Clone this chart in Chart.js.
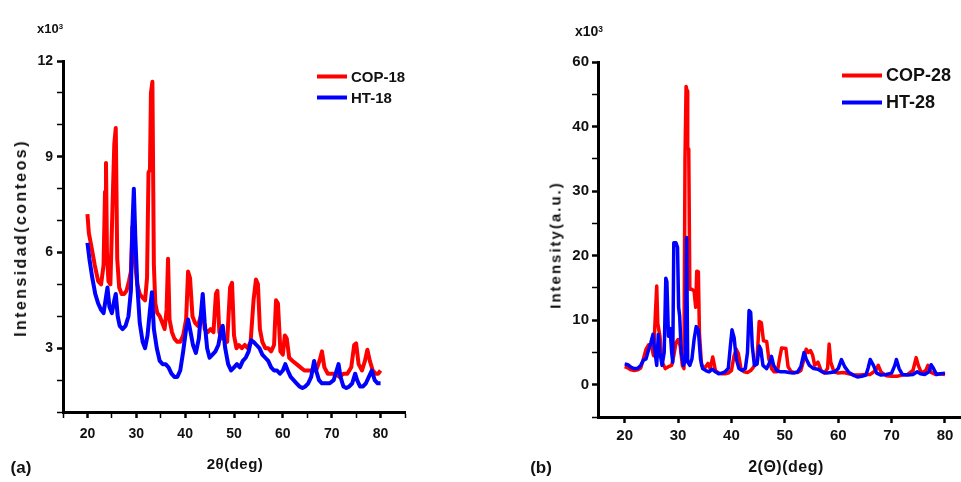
<!DOCTYPE html>
<html>
<head>
<meta charset="utf-8">
<title>XRD patterns</title>
<script src="https://cdn.jsdelivr.net/npm/chart.js@4.4.1/dist/chart.umd.min.js"></script>
<style>
  body { margin: 0; background: #fff; }
  #wrap {
    position: relative; width: 961px; height: 482px; overflow: hidden;
    font-family: 'Liberation Sans', Arial, sans-serif; font-weight: bold; color: #111;
  }
  canvas { position: absolute; top: 0; }
  .lbl { position: absolute; white-space: nowrap; line-height: 1; transform: translate(0, -50%); }
  .mid { transform: translate(-50%, -50%); }
  .rot { transform: translate(-50%, -50%) rotate(-90deg); }
  .legend-row { position: absolute; display: flex; align-items: center; transform: translate(0, -50%); }
  .legend-row span.swatch { display: inline-block; height: 4px; margin-right: 4px; }
  sup { font-size: 60%; vertical-align: 0.5em; }
</style>
</head>
<body>
<div id="wrap">
  <canvas id="chartA" width="480" height="482" style="left:0"></canvas>
  <canvas id="chartB" width="481" height="482" style="left:480px"></canvas>

  <div class="lbl" style="left:37px;top:28px;font-size:13px">x10<sup>3</sup></div>
  <div class="lbl rot" style="left:21px;top:238px;font-size:16px;letter-spacing:2.4px">Intensidad(conteos)</div>
  <div class="lbl mid" style="left:235px;top:463px;font-size:15px;letter-spacing:0.5px">2θ(deg)</div>
  <div class="lbl mid" style="left:21px;top:467px;font-size:17px">(a)</div>

  <div class="lbl" style="left:575px;top:31px;font-size:14px">x10<sup>3</sup></div>
  <div class="lbl rot" style="left:555px;top:245px;font-size:15px;letter-spacing:2px">Intensity(a.u.)</div>
  <div class="lbl mid" style="left:786px;top:467px;font-size:16px;letter-spacing:0.5px">2(Θ)(deg)</div>
  <div class="lbl mid" style="left:541px;top:467px;font-size:17px">(b)</div>

  <div id="legendA"></div>
  <div id="legendB"></div>
</div>

<script>
// Panel (a): COP-18 / HT-18, intensity in thousands of counts
const seriesA = ['COP-18', 'HT-18'];
const cop18X = [20, 20.3, 20.8, 21.5, 22.2, 22.8, 23.3, 23.6, 23.8, 24.0,
  24.3, 24.7, 25.2, 25.5, 25.8, 26.1, 26.5, 27.0, 27.5, 28.0,
  28.5, 28.9, 29.2, 29.5, 29.8, 30.2, 30.7, 31.2, 31.8, 32.2,
  32.5, 32.8, 33.0, 33.3, 33.6, 33.9, 34.3, 34.8, 35.3, 35.8,
  36.2, 36.5, 36.8, 37.3, 37.8, 38.4, 39.0, 39.6, 40.2, 40.6,
  41.0, 41.5, 42.0, 42.6, 43.2, 43.6, 44.0, 44.6, 45.2, 45.8,
  46.3, 46.6, 47.0, 47.5, 48.0, 48.6, 49.2, 49.6, 50.0, 50.5,
  51.0, 51.6, 52.2, 52.8, 53.4, 54.0, 54.5, 54.9, 55.3, 55.8,
  56.4, 57.0, 57.6, 58.2, 58.6, 59.0, 59.5, 60.0, 60.4, 60.8,
  61.3, 62.0, 62.8, 63.6, 64.4, 65.2, 66.0, 66.8, 67.5, 68.0,
  68.5, 69.2, 70.0, 70.8, 71.6, 72.4, 73.2, 74.0, 74.6, 75.0,
  75.5, 76.2, 76.8, 77.3, 77.8, 78.4, 79.0, 79.5, 80.0];
const cop18Y = [7.2, 6.6, 6.2, 5.6, 5.1, 5.0, 5.6, 7.9, 8.8, 6.0,
  5.1, 5.0, 7.8, 9.4, 9.9, 5.8, 4.9, 4.7, 4.7, 4.8,
  5.1, 5.4, 6.8, 6.2, 5.6, 5.0, 4.7, 4.6, 4.5, 5.2,
  8.5, 8.6, 11.0, 11.35, 5.6, 4.4, 4.1, 4.0, 3.8, 3.6,
  4.2, 5.8, 3.9, 3.5, 3.3, 3.2, 3.2, 3.4, 3.9, 5.4,
  5.2, 4.0, 3.8, 3.7, 4.0, 4.2, 3.6, 3.5, 3.6, 3.5,
  4.7, 4.8, 3.5, 3.3, 3.3, 3.2, 4.9, 5.05, 3.4, 3.0,
  3.1, 3.0, 3.1, 3.0, 3.2, 4.5, 5.15, 5.0, 3.6, 3.2,
  3.0, 3.0, 2.9, 3.1, 4.5, 4.4, 2.9, 2.8, 3.4, 3.3,
  2.7, 2.6, 2.5, 2.4, 2.3, 2.3, 2.3, 2.3, 2.6, 2.9,
  2.4, 2.2, 2.2, 2.2, 2.1, 2.2, 2.2, 2.4, 3.1, 3.15,
  2.5, 2.3, 2.6, 2.95, 2.6, 2.3, 2.2, 2.2, 2.3];
const ht18X = [20, 20.4, 21.0, 21.6, 22.2, 22.8, 23.3, 23.8, 24.1, 24.5,
  25.0, 25.5, 25.8, 26.2, 26.6, 27.2, 27.8, 28.4, 28.9, 29.2,
  29.5, 29.8, 30.2, 30.7, 31.3, 31.8, 32.3, 32.8, 33.2, 33.6,
  34.2, 34.8, 35.4, 36.0, 36.6, 37.2, 37.8, 38.4, 39.0, 39.6,
  40.2, 40.6, 41.0, 41.6, 42.2, 42.8, 43.3, 43.6, 44.0, 44.5,
  45.0, 45.6, 46.2, 46.8, 47.4, 47.7, 48.2, 48.8, 49.4, 50.0,
  50.6, 51.2, 51.8, 52.4, 53.0, 53.5, 54.0, 54.6, 55.2, 55.8,
  56.4, 57.0, 57.6, 58.2, 58.8, 59.4, 60.0, 60.5, 61.0, 61.6,
  62.2, 62.8, 63.4, 64.0, 64.6, 65.2, 65.8, 66.4, 66.8, 67.4,
  68.0, 68.8, 69.6, 70.4, 71.0, 71.4, 71.8, 72.4, 73.0, 73.6,
  74.2, 74.8, 75.2, 75.8, 76.4, 77.0, 77.6, 78.2, 78.8, 79.4,
  80.0];
const ht18Y = [6.3, 5.8, 5.2, 4.7, 4.4, 4.2, 4.1, 4.6, 4.9, 4.3,
  4.1, 4.5, 4.7, 4.0, 3.7, 3.6, 3.7, 4.0, 4.8, 6.8,
  8.0, 6.5, 5.0, 3.8, 3.2, 3.0, 3.4, 4.2, 4.75, 3.6,
  3.0, 2.6, 2.5, 2.5, 2.4, 2.2, 2.1, 2.1, 2.3, 2.9,
  3.6, 3.9, 3.6, 3.1, 2.85, 3.3, 4.2, 4.7, 3.8, 3.0,
  2.7, 2.8, 2.9, 3.1, 3.6, 3.7, 3.0, 2.5, 2.3, 2.4,
  2.5, 2.4, 2.6, 2.7, 2.9, 3.25, 3.2, 3.1, 3.0, 2.8,
  2.7, 2.6, 2.4, 2.3, 2.3, 2.2, 2.3, 2.5, 2.3, 2.1,
  2.0, 1.9, 1.8, 1.75, 1.8, 1.9, 2.1, 2.6, 2.3, 2.0,
  1.9, 1.9, 1.9, 2.0, 2.3, 2.5, 2.1, 1.8, 1.75, 1.8,
  1.9, 2.2, 2.0, 1.8, 1.8, 1.9, 2.1, 2.3, 2.0, 1.9,
  1.9];
const tickValuesA = [3, 6, 9, 12];
const tickLabelsA = ['3', '6', '9', '12'];

// Panel (b): COP-28 / HT-28, intensity in thousands (a.u.)
const seriesB = ['COP-28', 'HT-28'];
const cop28X = [20, 20.6, 21.2, 21.8, 22.4, 23.0, 23.5, 24.0, 24.5, 25.0,
  25.4, 25.7, 26.0, 26.2, 26.6, 27.0, 27.6, 28.2, 28.8, 29.2,
  29.6, 30.0, 30.4, 30.8, 31.1, 31.3, 31.5, 31.7, 31.8, 32.0,
  32.2, 32.6, 33.0, 33.3, 33.5, 33.8, 34.0, 34.4, 35.0, 35.6,
  36.0, 36.5, 37.0, 37.6, 38.2, 38.8, 39.4, 40.0, 40.5, 40.9,
  41.3, 41.8, 42.4, 43.0, 43.6, 44.2, 44.8, 45.2, 45.6, 46.0,
  46.6, 47.0, 47.5, 48.0, 48.6, 49.0, 49.4, 50.2, 50.6, 51.2,
  51.8, 52.4, 53.0, 53.6, 54.0, 54.4, 54.8, 55.2, 55.6, 56.2,
  56.8, 57.4, 58.0, 58.3, 58.6, 59.2, 60.0, 61.0, 62.0, 63.0,
  64.0, 65.0, 66.0, 67.0, 67.5, 68.0, 69.0, 70.0, 71.0, 72.0,
  73.0, 74.0, 74.6, 75.0, 75.6, 76.4, 76.8, 77.4, 78.2, 79.0,
  80.0];
const cop28Y = [2.8, 2.6, 2.3, 2.2, 2.3, 2.6, 4.0, 5.5, 6.2, 6.0,
  4.5, 10.0, 15.3, 9.5, 7.5, 3.5, 2.5, 2.8, 3.0, 4.5,
  6.5, 7.0, 6.0, 3.0, 2.5, 35.0, 46.2, 45.5, 36.7, 36.5,
  14.8, 14.8, 14.5, 12.0, 17.6, 17.5, 8.0, 3.0, 2.6, 3.3,
  2.5, 4.3, 2.2, 1.8, 1.7, 1.7, 1.8, 2.2, 4.5, 5.5,
  4.8, 2.4, 2.0, 1.9, 2.2, 2.8, 4.0, 9.8, 9.6, 6.8,
  6.7, 4.0, 2.5, 2.0, 2.0, 4.0, 5.7, 5.6, 2.8, 2.0,
  1.9, 1.9, 2.2, 4.0, 5.5, 5.0, 5.3, 4.6, 3.0, 3.5,
  2.2, 1.8, 2.5, 6.3, 3.5, 2.0, 1.8, 1.9, 1.7, 1.5,
  1.5, 1.6, 1.6, 2.2, 3.0, 2.0, 1.4, 1.3, 1.3, 1.5,
  1.6, 2.2, 4.2, 3.0, 1.8, 2.2, 3.0, 1.9, 1.6, 1.7,
  1.6];
const ht28X = [20, 20.6, 21.2, 21.8, 22.4, 23.0, 23.5, 24.0, 24.5, 24.9,
  25.3, 25.6, 26.0, 26.3, 26.6, 27.0, 27.4, 27.7, 27.9, 28.2,
  28.5, 28.8, 29.0, 29.2, 29.6, 29.9, 30.1, 30.3, 30.6, 31.0,
  31.4, 31.6, 31.8, 32.2, 32.6, 33.0, 33.4, 33.8, 34.2, 34.6,
  35.2, 35.8, 36.4, 37.0, 37.6, 38.2, 38.8, 39.4, 39.8, 40.1,
  40.5, 40.9, 41.4, 42.0, 42.6, 43.0, 43.3, 43.6, 43.9, 44.3,
  44.8, 45.2, 45.5, 45.9, 46.6, 47.2, 47.5, 47.9, 48.5, 49.2,
  50.0, 50.8, 51.6, 52.4, 53.0, 53.6, 54.0, 54.6, 55.4, 56.2,
  57.0, 57.8, 58.6, 59.4, 60.0, 60.6, 61.2, 62.0, 62.8, 63.6,
  64.4, 65.2, 65.6, 66.0, 66.6, 67.2, 68.0, 69.0, 70.0, 70.6,
  70.9, 71.4, 72.0, 73.0, 74.0, 74.8, 75.4, 76.2, 77.0, 77.4,
  77.8, 78.4, 79.2, 80.0];
const ht28Y = [3.2, 3.1, 2.7, 2.5, 2.5, 3.0, 3.8, 4.0, 5.5, 6.5,
  7.8, 5.5, 3.0, 7.8, 5.0, 3.0, 5.0, 16.5, 16.0, 7.5,
  8.7, 5.0, 3.5, 22.0, 22.0, 21.3, 12.0, 10.6, 5.0, 3.0,
  4.0, 22.8, 3.5, 3.0, 4.0, 7.0, 9.0, 8.5, 4.0, 2.5,
  2.2, 2.0, 2.4, 2.0, 1.7, 1.8, 2.0, 2.5, 6.0, 8.5,
  7.3, 4.0, 2.5, 2.2, 2.5, 5.0, 11.5, 11.2, 6.0, 3.0,
  3.2, 6.0, 5.5, 3.0, 2.5, 3.5, 4.4, 3.0, 2.2, 2.0,
  2.0, 1.9, 1.8, 2.0, 2.8, 5.0, 4.0, 3.0, 2.5, 2.4,
  2.0, 1.8, 1.9, 2.0, 2.5, 3.9, 2.8, 1.9, 1.5, 1.2,
  1.3, 1.5, 2.6, 3.9, 3.0, 1.8, 1.5, 1.6, 1.8, 3.0,
  3.9, 2.5, 1.6, 1.5, 1.6, 2.0, 1.7, 1.6, 2.0, 3.1,
  2.6, 1.6, 1.7, 1.8];
const tickValuesB = [0, 10, 20, 30, 40, 50];
const tickLabelsB = ['0', '10', '20', '30', '40', '60'];

const xTickValues = [20, 30, 40, 50, 60, 70, 80];
const colors = ['#ff0000', '#0000ff'];

document.addEventListener('DOMContentLoaded', () => {
  const fontFamily = "'Liberation Sans', Arial, sans-serif";

  initPanel('chartA', {
    series: seriesA,
    xs: [cop18X, ht18X],
    ys: [cop18Y, ht18Y],
    lineWidth: 4,
    fontSize: 14,
    padding: { left: 0, top: 61, right: 75, bottom: 0 },
    yWidth: 63,
    xHeight: 70,
    x: { min: 15, max: 85, step: 5, pad: 8 },
    y: { min: 1, max: 12, step: 1, pad: 4, values: tickValuesA, labels: tickLabelsA }
  });

  initPanel('chartB', {
    series: seriesB,
    xs: [cop28X, ht28X],
    ys: [cop28Y, ht28Y],
    lineWidth: 3.5,
    fontSize: 15,
    padding: { left: 0, top: 62, right: 0, bottom: 0 },
    yWidth: 118,
    xHeight: 65,
    x: { min: 15, max: 83, step: 10, pad: 4 },
    y: { min: -5, max: 50, step: 5, pad: 3, values: tickValuesB, labels: tickLabelsB }
  });

  buildLegend('legendA', seriesA, { left: 317, top: 76, gap: 21, line: 30, fontSize: 15 });
  buildLegend('legendB', seriesB, { left: 842, top: 75, gap: 27, line: 40, fontSize: 18 });

  function initPanel(id, cfg) {
    const ctx = document.getElementById(id);

    const datasets = cfg.series.map((name, i) => ({
      label: name,
      data: cfg.xs[i].map((x, j) => ({ x: x, y: cfg.ys[i][j] })),
      borderColor: colors[i],
      borderWidth: cfg.lineWidth,
      borderJoinStyle: 'round',
      pointRadius: 0,
      tension: 0,
      fill: false,
      order: i === 1 ? 0 : 1   // blue trace sits on top
    }));

    const font = { family: fontFamily, size: cfg.fontSize, weight: 'bold' };

    new Chart(ctx, {
      type: 'line',
      data: { datasets },
      options: {
        responsive: false,
        animation: false,
        devicePixelRatio: 1,
        layout: { padding: cfg.padding },
        plugins: { legend: { display: false }, tooltip: { enabled: false } },
        scales: {
          x: {
            type: 'linear',
            min: cfg.x.min,
            max: cfg.x.max,
            afterFit: scale => { scale.height = cfg.xHeight; },
            ticks: {
              stepSize: cfg.x.step,
              includeBounds: false,
              autoSkip: false,
              maxRotation: 0,
              padding: cfg.x.pad,
              color: '#111',
              font,
              callback: value => xTickValues.includes(value) ? String(value) : ''
            },
            grid: {
              drawOnChartArea: false,
              tickLength: 6,
              tickColor: '#000',
              tickWidth: c => (c.tick && xTickValues.includes(c.tick.value)) ? 2.5 : 1.5
            },
            border: { color: '#000', width: 3 }
          },
          y: {
            type: 'linear',
            min: cfg.y.min,
            max: cfg.y.max,
            afterFit: scale => { scale.width = cfg.yWidth; },
            ticks: {
              stepSize: cfg.y.step,
              includeBounds: false,
              autoSkip: false,
              padding: cfg.y.pad,
              color: '#111',
              font,
              callback: value => {
                const k = cfg.y.values.indexOf(value);
                return k >= 0 ? cfg.y.labels[k] : '';
              }
            },
            grid: {
              drawOnChartArea: false,
              tickLength: 6,
              tickColor: '#000',
              tickWidth: c => (c.tick && cfg.y.values.includes(c.tick.value)) ? 2.5 : 1.5
            },
            border: { color: '#000', width: 3 }
          }
        }
      }
    });
  }

  function buildLegend(id, names, pos) {
    const box = document.getElementById(id);
    names.forEach((name, i) => {
      const row = document.createElement('div');
      row.className = 'legend-row';
      row.style.left = pos.left + 'px';
      row.style.top = (pos.top + i * pos.gap) + 'px';
      row.style.fontSize = pos.fontSize + 'px';
      row.innerHTML = `<span class="swatch" style="width:${pos.line}px;background:${colors[i]}"></span><span>${name}</span>`;
      box.appendChild(row);
    });
  }
});
</script>
</body>
</html>
